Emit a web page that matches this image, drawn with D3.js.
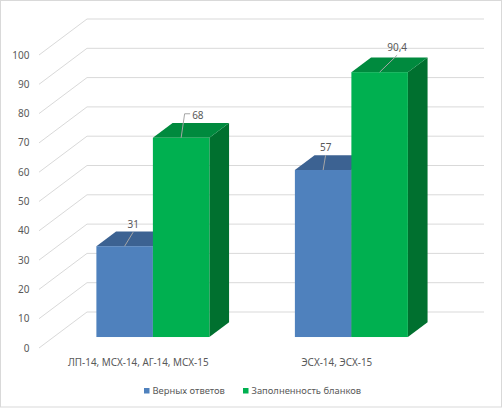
<!DOCTYPE html>
<html><head><meta charset="utf-8">
<script src="https://cdn.jsdelivr.net/npm/d3@7"></script>
<style>
html,body{margin:0;padding:0;background:#fff;}
svg{display:block;font-family:"Noto Sans","Open Sans",sans-serif;}
</style></head>
<body>
<svg id="c" width="503" height="409"></svg>
<script>
// ---- data ----
const categories = ["ЛП-14, МСХ-14, АГ-14, МСХ-15", "ЭСХ-14, ЭСХ-15"];
const seriesNames = ["Верных ответов", "Заполненность бланков"];
const correctAnswers = [31, 57];
const formsFilled = [68, 90.4];
const yTicks = [0, 10, 20, 30, 40, 50, 60, 70, 80, 90, 100];

// ---- layout / style ----
const colors = [
  {front:"#4F81BD", top:"#3C6292", side:"#2F4E75"},
  {front:"#00B050", top:"#008A3E", side:"#00702F"}
];
const depth = {dx:48, dy:-36};       // full floor depth
const barStart = 0.305, barDepth = 0.41; // fraction of depth
const labelOffsets = [[{dx:8.5,dy:-22},{dx:2.5,dy:-23}],[{dx:16,dy:-22.5,elbow:true},{dx:17.5,dy:-25}]];

const svg = d3.select("#c");
svg.append("rect").attr("x",0.5).attr("y",0.5).attr("width",501).attr("height",406.5)
  .attr("fill","#fff").attr("stroke","#D9D9D9");

const y = d3.scaleLinear().domain([0,100]).range([348,55]);
const x = d3.scaleBand().domain(categories).range([39,436]).paddingInner(0).paddingOuter(0);
const groupW = 113;
const x1 = d3.scaleBand().domain(seriesNames).range([0,groupW]);

// gridlines (floor-back walls)
const grid = svg.append("g").attr("stroke","#D9D9D9").attr("fill","none").attr("stroke-width",1);
yTicks.forEach(t=>{
  const yy = y(t);
  grid.append("path").attr("d",`M39,${yy}L${39+depth.dx},${yy+depth.dy}L484,${yy+depth.dy}`);
});
svg.append("g").attr("font-size",10).attr("fill","#595959").attr("text-anchor","end")
  .selectAll("text").data(yTicks).join("text")
  .attr("x",29.5).attr("y",d=>y(d)).attr("dy","0.35em").text(d=>d);

// bars
const series = [correctAnswers, formsFilled];
const ox = depth.dx*barStart, oy = depth.dy*barStart;
const bx = depth.dx*barDepth, by = depth.dy*barDepth;
const bars = svg.append("g");
const lab = svg.append("g");
categories.forEach((cat,ci)=>{
  series.forEach((vals,si)=>{
    const v = vals[ci];
    const x0 = x(cat)+x.bandwidth()/2-groupW/2+x1(seriesNames[si])+ox;
    const w = x1.bandwidth();
    const yTop = y(v)+oy, yBot = y(0)+oy;
    const c = colors[si];
    bars.append("path").attr("fill",c.side)
      .attr("d",`M${x0+w},${yTop}L${x0+w+bx},${yTop+by}L${x0+w+bx},${yBot+by}L${x0+w},${yBot}Z`);
    bars.append("path").attr("fill",c.top)
      .attr("d",`M${x0},${yTop}L${x0+bx},${yTop+by}L${x0+w+bx},${yTop+by}L${x0+w},${yTop}Z`);
    bars.append("rect").attr("fill",c.front).attr("x",x0).attr("y",yTop).attr("width",w).attr("height",yBot-yTop);
    const o = labelOffsets[si][ci];
    const cx = x0+w/2;
    const lx = cx+o.dx, ly = yTop+o.dy;
    const txt = String(v).replace(".",",");
    if(o.elbow){
      lab.append("path").attr("fill","none").attr("stroke","#A6A6A6").attr("stroke-width",1)
        .attr("d",`M${cx},${yTop}L${cx+3.5},${ly-1.5}L${cx+9},${ly-1.5}`);
      lab.append("text").attr("x",cx+11).attr("y",ly).attr("dy","0.35em").attr("font-size",10)
        .attr("fill","#595959").text(txt);
    } else {
      lab.append("path").attr("fill","none").attr("stroke","#A6A6A6").attr("stroke-width",1)
        .attr("d",`M${cx},${yTop}L${lx},${ly+8}`);
      lab.append("text").attr("x",lx).attr("y",ly).attr("dy","0.35em").attr("font-size",10)
        .attr("text-anchor","middle").attr("fill","#595959").text(txt);
    }
  });
});

// category labels
svg.append("g").attr("font-size",9.9).attr("fill","#595959").attr("text-anchor","middle")
  .selectAll("text").data(categories).join("text")
  .attr("x",d=>x(d)+x.bandwidth()/2).attr("y",363).attr("dy","0.35em").text(d=>d);

// legend
const legend = svg.append("g").attr("font-size",9.4).attr("fill","#595959");
const legX = [144, 243];
seriesNames.forEach((n,i)=>{
  legend.append("rect").attr("x",legX[i]).attr("y",388).attr("width",5.5).attr("height",5.5).attr("fill",colors[i].front);
  legend.append("text").attr("x",legX[i]+8.5).attr("y",391).attr("dy","0.35em").text(n);
});
</script>
</body></html>
